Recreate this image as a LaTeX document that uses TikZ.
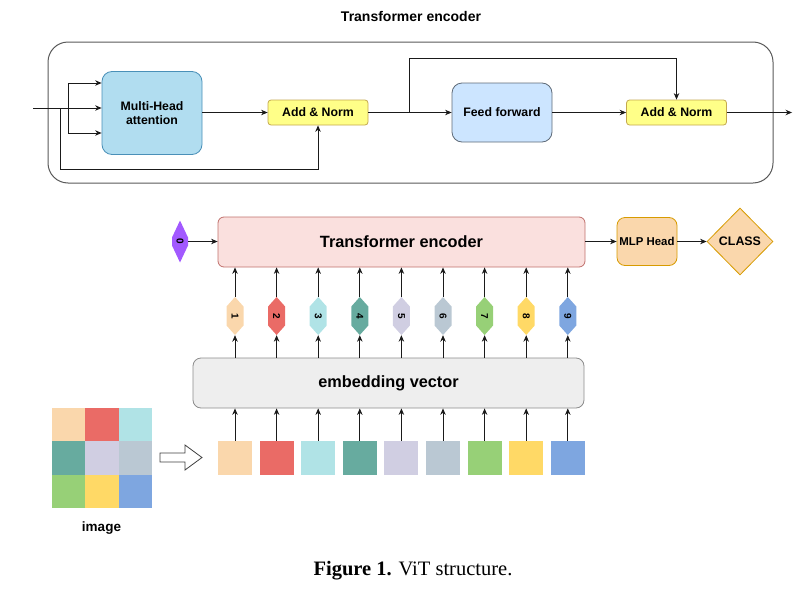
\documentclass[tikz,border=0pt]{standalone}
\usepackage{fontspec}
\setmainfont{Liberation Sans}
\newfontfamily\capfont{Liberation Serif}
\usetikzlibrary{arrows.meta,shapes.geometric}
\definecolor{cpeach}{HTML}{FAD7AC}
\definecolor{cpeachd}{HTML}{D79B00}
\definecolor{cred}{HTML}{EA6B66}
\definecolor{ccyan}{HTML}{B0E3E6}
\definecolor{cteal}{HTML}{67AB9F}
\definecolor{clav}{HTML}{D0CEE2}
\definecolor{cgblue}{HTML}{BAC8D3}
\definecolor{cgreen}{HTML}{97D077}
\definecolor{cyell}{HTML}{FFD966}
\definecolor{cblue}{HTML}{7EA6E0}
\definecolor{cpurple}{HTML}{A259FF}
\definecolor{encfill}{HTML}{FAE0DE}
\definecolor{encdraw}{HTML}{C0706C}
\definecolor{embfill}{HTML}{EEEEEE}
\definecolor{embdraw}{HTML}{8C8C8C}
\definecolor{addfill}{HTML}{FFFF88}
\definecolor{adddraw}{HTML}{C4A84E}
\definecolor{mhafill}{HTML}{B1DDF0}
\definecolor{mhadraw}{HTML}{4A90B8}
\definecolor{fffill}{HTML}{CCE5FF}
\definecolor{ffdraw}{HTML}{5F6B78}
\definecolor{linec}{HTML}{1A1A1A}
\tikzset{
  arr/.style={draw=linec, line width=0.8pt, -{Stealth[length=6.5pt,width=5.5pt]}},
  ln/.style={draw=linec, line width=0.8pt},
  box/.style={rounded corners=#1, line width=0.8pt, inner sep=0pt, align=center, font=\bfseries\fontsize{12.3}{14}\selectfont},
  tokshape/.style 2 args={inner sep=0pt, font=\bfseries\fontsize{10}{11}\selectfont,
    path picture={\fill[#1] (path picture bounding box.north) -- ([yshift=-#2]path picture bounding box.north east) -- ([yshift=#2]path picture bounding box.south east) -- (path picture bounding box.south) -- ([yshift=#2]path picture bounding box.south west) -- ([yshift=-#2]path picture bounding box.north west) -- cycle;}},
  token/.style={tokshape={#1}{9.5pt}, minimum width=17pt, minimum height=38pt},
  patch/.style={minimum width=34pt, minimum height=34pt, inner sep=0pt, fill=#1},
  cell/.style={minimum width=33.4pt, minimum height=33.4pt, inner sep=0pt, fill=#1}
}
\begin{document}
\begin{tikzpicture}[x=1pt, y=-1pt]
\useasboundingbox (0,0) rectangle (811,589);
% ---------- top: encoder block ----------
\node[font=\bfseries\fontsize{14}{16}\selectfont] (title) at (411,16) {Transformer encoder};
\node[draw=black!65, line width=1pt, rounded corners=20pt, minimum width=725pt, minimum height=141pt] (outer) at (410.5,112.5) {};
\node[box=10pt, draw=mhadraw, fill=mhafill, minimum width=100pt, minimum height=83pt] (mha) at (152,113) {Multi-Head\\attention};
\node[box=3pt, draw=adddraw, fill=addfill, minimum width=100pt, minimum height=25pt] (add1) at (318,112.5) {Add \& Norm};
\node[box=10pt, draw=ffdraw, fill=fffill, minimum width=100pt, minimum height=59pt] (ff) at (502,112.5) {Feed forward};
\node[box=3pt, draw=adddraw, fill=addfill, minimum width=100pt, minimum height=25pt] (add2) at (676.5,112.5) {Add \& Norm};
\coordinate (in) at (33,108);
\coordinate (b1) at (68,108);
\coordinate (b2) at (60,108);
\coordinate (b3) at (409,112.5);
\coordinate (out) at (792,112.5);
\draw[arr] (in) -- (mha.west |- in);
\draw[ln] (b1 |- 0,83) -- (b1 |- 0,133);
\draw[arr] (b1 |- 0,83) -- (mha.west |- 0,83);
\draw[arr] (b1 |- 0,133) -- (mha.west |- 0,133);
\draw[arr] (b2) -- (60,169) -- (add1.south |- 0,169) -- (add1.south);
\draw[arr] (mha.east |- add1.west) -- (add1.west);
\draw[arr] (add1.east) -- (ff.west |- add1.east);
\draw[arr] (b3) -- (409,58) -- (add2.north |- 0,58) -- (add2.north);
\draw[arr] (ff.east |- add2.west) -- (add2.west);
\draw[arr] (add2.east) -- (out);
% ---------- bottom: ViT ----------
\node[box=6pt, draw=encdraw, fill=encfill, minimum width=367pt, minimum height=50pt, font=\bfseries\fontsize{16.3}{18}\selectfont] (enc) at (401.5,242) {Transformer encoder};
\node[box=8pt, draw=cpeachd, fill=cpeach, minimum width=60pt, minimum height=48pt, font=\bfseries\fontsize{11.4}{13}\selectfont] (mlp) at (647,241.5) {MLP Head};
\node[diamond, draw=cpeachd, fill=cpeach, line width=0.8pt, minimum width=66pt, minimum height=67pt, inner sep=0pt, aspect=1, font=\bfseries\fontsize{12.4}{14}\selectfont] (cls) at (740,241.5) {CLASS};
\draw[arr] (enc.east |- mlp.west) -- (mlp.west);
\draw[arr] (mlp.east) -- (cls.west);
\node[tokshape={cpurple}{17pt}, minimum width=16pt, minimum height=42pt] (t0) at (180,241.5) {\rotatebox{-90}{0}};
\draw[arr] (t0.east) -- (enc.west |- t0.east);
\node[box=8pt, draw=embdraw, fill=embfill, minimum width=391pt, minimum height=50pt, font=\bfseries\fontsize{16.3}{18}\selectfont] (emb) at (388.5,383) {embedding vector};
\foreach \i/\c in {1/cpeach,2/cred,3/ccyan,4/cteal,5/clav,6/cgblue,7/cgreen,8/cyell,9/cblue}{
  \pgfmathsetmacro{\xx}{235+41.6*(\i-1)}
  \node[token=\c] (t\i) at (\xx,316) {\rotatebox{-90}{\i}};
  \node[patch=\c] (p\i) at (\xx,458) {};
  \draw[arr] (t\i.north) -- (enc.south -| t\i.north);
  \draw[arr] (emb.north -| t\i.south) -- (t\i.south);
  \draw[arr] (p\i.north) -- (emb.south -| p\i.north);
}
% image grid
\foreach \r/\cl/\cm/\cr in {0/cpeach/cred/ccyan,1/cteal/clav/cgblue,2/cgreen/cyell/cblue}{
  \node[cell=\cl] (g\r a) at (68.7,424.7+33.4*\r) {};
  \node[cell=\cm] (g\r b) at (102.1,424.7+33.4*\r) {};
  \node[cell=\cr] (g\r c) at (135.5,424.7+33.4*\r) {};
}
\node[font=\bfseries\fontsize{13.5}{15}\selectfont] (imglab) at (101.5,528) {image};
\draw[draw=black!75, line width=0.8pt, fill=white, line join=miter] (160,453) -- (185,453) -- (185,445) -- (202,457.5) -- (185,470) -- (185,462) -- (160,462) -- cycle;
% caption
\node[font=\capfont\fontsize{20.5}{22}\selectfont] (cap) at (413,571) {\textbf{Figure 1.} ViT structure.};
\end{tikzpicture}
\end{document}
